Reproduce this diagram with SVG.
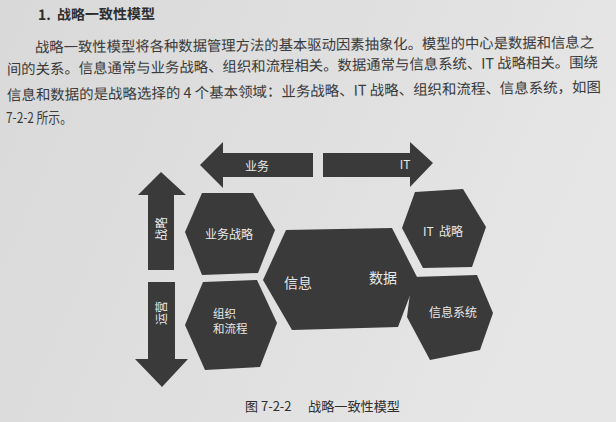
<svg xmlns="http://www.w3.org/2000/svg" width="616" height="422" viewBox="0 0 616 422">
<defs>
<linearGradient id="bg" x1="0" y1="0" x2="1" y2="0.3">
<stop offset="0" stop-color="#d9d9d9"/>
<stop offset="0.6" stop-color="#e0e0e0"/>
<stop offset="1" stop-color="#e6e6e6"/>
</linearGradient>
</defs>
<style>
.txt{font-family:"Noto Sans CJK SC","Noto Sans",sans-serif;fill:#3a3a3a;font-size:14.5px}
.ttl{font-family:"Noto Sans CJK SC","Noto Sans",sans-serif;fill:#2e2e2e;font-size:14px;font-weight:bold}
.cap{font-family:"Noto Sans CJK SC","Noto Sans",sans-serif;fill:#2e2e2e;font-size:13px}
.shape{fill:#3a3a3a}
.lbl{font-family:"Noto Sans CJK SC","Noto Sans",sans-serif;fill:#e8e8e8;font-size:12px;text-anchor:middle}
.big{font-size:14px}
</style>
<rect width="616" height="422" fill="url(#bg)"/>

<g id="text-body">
<text class="ttl" x="38" y="20" transform="rotate(-0.6 38 20)">1. <tspan x="57">战略一致性模型</tspan></text>
<text class="txt" x="35" y="52.5" textLength="559" lengthAdjust="spacingAndGlyphs" transform="rotate(-0.5 35 52.5)">战略一致性模型将各种数据管理方法的基本驱动因素抽象化。模型的中心是数据和信息之</text>
<text class="txt" x="7" y="74.5" textLength="591" lengthAdjust="spacingAndGlyphs" transform="rotate(-0.7 7 74.5)">间的关系。信息通常与业务战略、组织和流程相关。数据通常与信息系统、IT 战略相关。围绕</text>
<text class="txt" x="7" y="100.5" textLength="594" lengthAdjust="spacingAndGlyphs" transform="rotate(-0.8 7 100.5)">信息和数据的是战略选择的 4 个基本领域：业务战略、IT 战略、组织和流程、信息系统，如图</text>
<text class="txt" x="6" y="122.5" textLength="66" lengthAdjust="spacingAndGlyphs">7-2-2 所示。</text>
</g>

<g id="connectors">
<polygon id="arrow-business" class="shape" points="200,165 223,142 223,153 313,153 313,177 223,177 223,188"/>
<polygon id="arrow-it" class="shape" points="433,163 410,142 410,153 323,153 323,177 410,177 410,187"/>
<polygon id="arrow-strategy" class="shape" points="161,172 186,195 174,195 174,270 148,270 148,195 138,195"/>
<polygon id="arrow-operation" class="shape" points="162,387 188,359 175,359 175,282 148,282 148,359 135,359"/>
<text class="lbl" x="257" y="170.5">业务</text>
<text class="lbl" x="405" y="168.5">IT</text>
<text class="lbl" transform="translate(165.5 229) rotate(-90)">战略</text>
<text class="lbl" transform="translate(165.5 313) rotate(-90)">运营</text>
</g>

<g id="node-business-strategy">
<polygon class="shape" points="185,232 202,193 253,193 275,230 258,273 202,275"/>
<text class="lbl" x="229" y="239">业务战略</text>
</g>

<g id="node-org-process">
<polygon class="shape" points="185,325 203,282 257,280 277,323 260,367 205,370"/>
<text class="lbl" x="213" y="318" style="text-anchor:start;font-size:11.5px">组织</text>
<text class="lbl" x="213" y="332.5" style="text-anchor:start;font-size:11.5px">和流程</text>
</g>

<g id="node-center">
<polygon class="shape" points="263,280 286,230 392,228 417,277 398,327 292,330"/>
<text class="lbl big" x="298" y="288">信息</text>
<text class="lbl big" x="383" y="283">数据</text>
</g>

<g id="node-it-strategy">
<polygon class="shape" points="402,228 415,192 463,189 486,227 472,267 423,268"/>
<text class="lbl" x="443" y="236" xml:space="preserve">IT  战略</text>
</g>

<g id="node-info-system">
<polygon class="shape" points="407,317 412,277 477,275 493,313 480,350 430,360"/>
<text class="lbl" x="453" y="317">信息系统</text>
</g>

<g id="caption">
<text class="cap" x="245" y="411">图 7-2-2<tspan x="308" textLength="92" lengthAdjust="spacingAndGlyphs">战略一致性模型</tspan></text>
</g>
</svg>
